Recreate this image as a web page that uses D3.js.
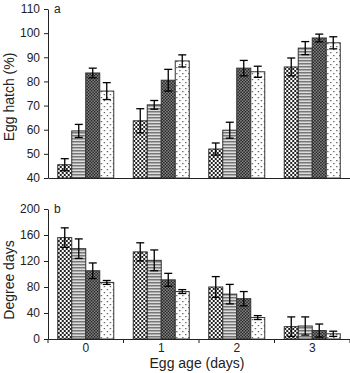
<!DOCTYPE html>
<html>
<head>
<meta charset="utf-8">
<script src="https://cdn.jsdelivr.net/npm/d3@7"></script>
<style>
  body { margin: 0; background: #fff; }
  svg { font-family: "Liberation Sans", Arial, sans-serif; }
</style>
</head>
<body>
<svg width="350" height="373"></svg>
<script>
// egg age groups
const ages = ["0", "1", "2", "3"]
const series = ["s1", "s2", "s3", "s4"]

// panel a : egg hatch (%)
const hatchMean = [
  [45.5, 59.5, 83.5, 76],
  [63.7, 70.3, 80.5, 88.5],
  [52, 59.8, 85.5, 84],
  [86, 93.8, 98, 96]
]
const hatchErr = [
  [2.5, 2.7, 2, 3.5],
  [5, 1.8, 4.5, 2.5],
  [2.5, 3.3, 3.2, 2.3],
  [3.7, 2.7, 1.6, 2.5]
]
const hatchTicks = [40, 50, 60, 70, 80, 90, 100, 110]

// panel b : degree days
const ddMean = [
  [156, 139, 105, 87],
  [134, 121, 91, 73],
  [80, 69, 62, 33],
  [19, 20, 13, 8]
]
const ddErr = [
  [15, 15, 12, 3],
  [14, 16, 10, 3],
  [16, 15, 11, 3],
  [15, 14, 10, 4]
]
const ddTicks = [0, 40, 80, 120, 160, 200]

let svg = d3.select('svg')
let defs = svg.append('defs')

// fill patterns
let p1 = defs.append('pattern').attr('id', 'pat-s1')
  .attr('width', 4).attr('height', 4).attr('patternUnits', 'userSpaceOnUse')
p1.append('rect').attr('width', 4).attr('height', 4).attr('fill', '#fff')
p1.append('rect').attr('width', 2).attr('height', 2).attr('fill', '#222')
p1.append('rect').attr('x', 2).attr('y', 2).attr('width', 2).attr('height', 2).attr('fill', '#222')

let p2 = defs.append('pattern').attr('id', 'pat-s2')
  .attr('width', 4).attr('height', 3).attr('patternUnits', 'userSpaceOnUse')
p2.append('rect').attr('width', 4).attr('height', 3).attr('fill', '#ddd')
p2.append('rect').attr('width', 4).attr('height', 1.5).attr('fill', '#777')

let p3 = defs.append('pattern').attr('id', 'pat-s3')
  .attr('width', 3).attr('height', 3).attr('patternUnits', 'userSpaceOnUse')
p3.append('rect').attr('width', 3).attr('height', 3).attr('fill', '#999')
p3.append('rect').attr('width', 1.5).attr('height', 1.5).attr('fill', '#111')
p3.append('rect').attr('x', 1.5).attr('y', 1.5).attr('width', 1.5).attr('height', 1.5).attr('fill', '#111')

let p4 = defs.append('pattern').attr('id', 'pat-s4')
  .attr('width', 6).attr('height', 6).attr('patternUnits', 'userSpaceOnUse')
p4.append('rect').attr('width', 6).attr('height', 6).attr('fill', '#fff')
p4.append('rect').attr('x', 1).attr('y', 1).attr('width', 1.2).attr('height', 1.2).attr('fill', '#444')
p4.append('rect').attr('x', 4).attr('y', 4).attr('width', 1.2).attr('height', 1.2).attr('fill', '#444')

let x0 = d3.scaleBand().domain(ages).range([48, 350]).paddingInner(0).paddingOuter(0)
let x1 = d3.scaleBand().domain(series).range([0, 56])
let groupOffset = (x0.bandwidth() - 56) / 2

function panel(means, errs, yScale, ticks, letter, label, labelMid, showX) {
  let g = svg.append('g')

  // bars
  let groups = g.selectAll('g.age')
    .data(means)
    .enter()
    .append('g')
    .attr('class', 'age')
    .attr('transform', (d, i) => `translate(${x0(ages[i]) + groupOffset},0)`)

  groups.selectAll('rect')
    .data((d, i) => d.map((v, j) => ({ v: v, e: errs[i][j], s: series[j] })))
    .enter()
    .append('rect')
    .attr('x', d => x1(d.s))
    .attr('y', d => yScale(d.v))
    .attr('width', x1.bandwidth())
    .attr('height', d => yScale.range()[0] - yScale(d.v))
    .attr('fill', d => `url(#pat-${d.s})`)
    .attr('stroke', '#333')
    .attr('stroke-width', 1)

  // error bars
  let lo = d => yScale(Math.max(d.v - d.e, yScale.domain()[0]))
  let hi = d => yScale(d.v + d.e)
  let cx = d => x1(d.s) + x1.bandwidth() / 2
  let eb = groups.selectAll('g.err')
    .data((d, i) => d.map((v, j) => ({ v: v, e: errs[i][j], s: series[j] })))
    .enter()
    .append('g')
    .attr('class', 'err')
    .attr('stroke', '#000')
    .attr('stroke-width', 1.3)
  eb.append('line')
    .attr('x1', cx).attr('x2', cx)
    .attr('y1', lo).attr('y2', hi)
  eb.append('line')
    .attr('x1', d => cx(d) - 4).attr('x2', d => cx(d) + 4)
    .attr('y1', hi).attr('y2', hi)
  eb.append('line')
    .attr('x1', d => cx(d) - 4).attr('x2', d => cx(d) + 4)
    .attr('y1', lo).attr('y2', lo)

  // y axis
  let yAxis = g.append('g')
    .attr('transform', 'translate(48,0)')
    .call(d3.axisLeft(yScale).tickValues(ticks).tickSize(4).tickSizeOuter(0))
  yAxis.selectAll('text').attr('font-size', 12).attr('fill', '#222').attr('dx', -1)
  yAxis.selectAll('line, path').attr('stroke', '#222')

  // x axis
  let base = yScale.range()[0]
  let xAxis = g.append('g')
    .attr('transform', `translate(0,${base})`)
  if (showX) {
    xAxis.call(d3.axisBottom(x0).tickSize(0).tickPadding(4))
    xAxis.selectAll('text').attr('font-size', 12).attr('fill', '#222')
    xAxis.selectAll('line.sep')
      .data(x0.domain().concat(['end']))
      .enter()
      .append('line')
      .attr('class', 'sep')
      .attr('x1', (d, i) => i < ages.length ? x0(d) : x0.range()[1])
      .attr('x2', (d, i) => i < ages.length ? x0(d) : x0.range()[1])
      .attr('y1', 0)
      .attr('y2', 4)
      .attr('stroke', '#222')
  } else {
    xAxis.call(d3.axisBottom(x0).tickSize(0).tickFormat(''))
  }
  xAxis.select('path.domain').attr('stroke', '#222').attr('stroke-width', 1.2)

  // panel letter
  g.append('text')
    .attr('x', 54)
    .attr('y', yScale.range()[1] + 4)
    .attr('font-size', 12)
    .attr('fill', '#222')
    .text(letter)

  // y label
  g.append('text')
    .attr('transform', `translate(14,${labelMid}) rotate(-90)`)
    .attr('text-anchor', 'middle')
    .attr('font-size', 14)
    .attr('fill', '#222')
    .text(label)
}

let yHatch = d3.scaleLinear().domain([40, 110]).range([178, 9])
let yDD = d3.scaleLinear().domain([0, 200]).range([339, 209])

panel(hatchMean, hatchErr, yHatch, hatchTicks, 'a', 'Egg hatch (%)', 97, false)
panel(ddMean, ddErr, yDD, ddTicks, 'b', 'Degree days', 280, true)

svg.append('text')
  .attr('x', 197)
  .attr('y', 368)
  .attr('text-anchor', 'middle')
  .attr('font-size', 14)
  .attr('fill', '#222')
  .text('Egg age (days)')
</script>
</body>
</html>
